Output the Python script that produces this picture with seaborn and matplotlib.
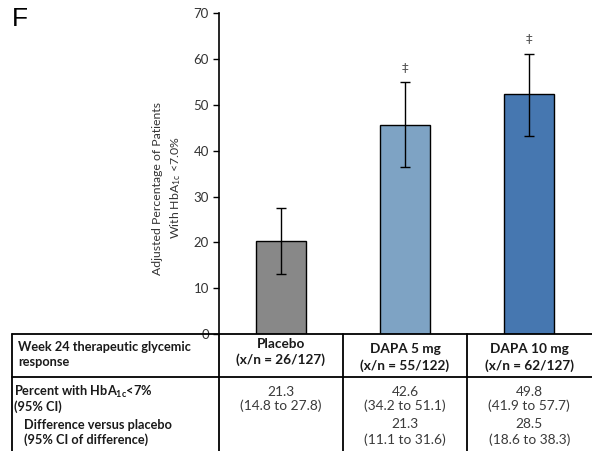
import matplotlib
matplotlib.use("Agg")
import matplotlib.pyplot as plt
import matplotlib.transforms as mtransforms
from matplotlib.lines import Line2D
import seaborn as sns
import pandas as pd

# Adjusted percentage of patients reaching HbA1c < 7.0% at week 24
groups = ["Placebo", "DAPA 5 mg", "DAPA 10 mg"]
adj_pct = [20.4, 45.5, 52.4]
ci_low = [13.1, 36.4, 43.3]
ci_high = [27.4, 55.0, 61.2]
significance = ["", "‡", "‡"]
bar_colors = ["#888888", "#7ea3c4", "#4677b0"]

# Summary table below the bars
header_label = ["Week 24 therapeutic glycemic", "response"]
col_headers = [["Placebo", "(x/n = 26/127)"],
               ["DAPA 5 mg", "(x/n = 55/122)"],
               ["DAPA 10 mg", "(x/n = 62/127)"]]
pct_values = ["21.3", "42.6", "49.8"]
pct_ci = ["(14.8 to 27.8)", "(34.2 to 51.1)", "(41.9 to 57.7)"]
diff_values = ["", "21.3", "28.5"]
diff_ci = ["", "(11.1 to 31.6)", "(18.6 to 38.3)"]
yticks = [0, 10, 20, 30, 40, 50, 60, 70]

W, H = 592, 451
sns.set_theme(style="white")
plt.rcParams["font.family"] = ["Lato", "DejaVu Sans"]
plt.rcParams["mathtext.fontset"] = "custom"
plt.rcParams["mathtext.rm"] = "Lato"
plt.rcParams["mathtext.it"] = "Lato:italic"
plt.rcParams["mathtext.bf"] = "Lato:bold"

fig = plt.figure(figsize=(W / 100, H / 100), dpi=100)
ax = fig.add_axes([218.5 / W, (H - 334) / H, 373 / W, 320.8 / H])

df = pd.DataFrame({"group": groups, "pct": adj_pct})
sns.barplot(data=df, x="group", y="pct", hue="group", palette=bar_colors,
            order=groups, hue_order=groups, legend=False, width=0.4,
            edgecolor="black", linewidth=1.0, saturation=1, ax=ax)

xs = list(range(len(groups)))
err_lo = [v - l for v, l in zip(adj_pct, ci_low)]
err_hi = [h - v for v, h in zip(adj_pct, ci_high)]
ax.errorbar(xs, adj_pct, yerr=[err_lo, err_hi], fmt="none", ecolor="black",
            elinewidth=1.0, capsize=3.8, capthick=1.0, zorder=5)
for x, h, s in zip(xs, ci_high, significance):
    if s:
        ax.text(x, h + 3.2, s, ha="center", va="center", fontsize=9.5,
                color="#555555", family=["DejaVu Sans"])

ax.set_xlim(-0.5, 2.5)
ax.set_ylim(0, 70)
ax.set_yticks(yticks)
ax.set_yticklabels([str(t) for t in yticks], fontsize=9.5, color="#333333")
ax.set_xticks([])
ax.set_xlabel("")
ax.set_ylabel("Adjusted Percentage of Patients\nWith HbA$_{\\mathrm{1c}}$ <7.0%",
              fontsize=8.8, color="#333333", linespacing=1.45)
ax.yaxis.set_label_coords(-0.095, 0.455)
ax.tick_params(axis="y", direction="out", length=4, width=1, color="black",
               left=True, pad=3)
for side in ["top", "right", "bottom"]:
    ax.spines[side].set_visible(False)
ax.spines["left"].set_color("black")
ax.spines["left"].set_linewidth(1.2)

fig.text(12 / W, 1 - 19 / H, "F", fontsize=19, family=["Liberation Sans"],
         ha="left", va="center", color="black")

# Table grid
def fy(px):
    return 1 - px / H

lw = 1.3
fig.add_artist(Line2D([12 / W, 1], [fy(334), fy(334)], color="black", lw=lw))
fig.add_artist(Line2D([12 / W, 1], [fy(376.7), fy(376.7)], color="black", lw=lw))
fig.add_artist(Line2D([12.3 / W, 12.3 / W], [fy(334), 0], color="black", lw=lw))
blend = mtransforms.blended_transform_factory(ax.transData, fig.transFigure)
for xd in [-0.5, 0.5, 1.5]:
    fig.add_artist(Line2D([xd, xd], [fy(334), 0], color="black", lw=lw,
                          transform=blend))

bold_kw = dict(fontsize=9.2, fontweight="bold", color="#1a1a1a")
head_kw = dict(fontsize=9.8, fontweight="bold", color="#1a1a1a")
val_kw = dict(fontsize=9.9, color="#3a3a3a", ha="center", va="baseline")

fig.text(18 / W, fy(346.7), header_label[0], ha="left", va="center", **bold_kw)
fig.text(18 / W, fy(361.7), header_label[1], ha="left", va="center", **bold_kw)

header_y = [(344, 360), (349, 365.7), (349, 365.7)]
for x, lines, (y1, y2) in zip(xs, col_headers, header_y):
    fig.text(x, fy(y1), lines[0], ha="center", va="center", transform=blend, **head_kw)
    fig.text(x, fy(y2), lines[1], ha="center", va="center", transform=blend, **head_kw)

fig.text(14 / W, fy(395.5), "Percent with HbA$_{\\mathbf{1c}}$<7%", ha="left",
         va="baseline", **bold_kw)
fig.text(14 / W, fy(410.5), "(95% CI)", ha="left", va="baseline", **bold_kw)
fig.text(24 / W, fy(429), "Difference versus placebo", ha="left", va="baseline", **bold_kw)
fig.text(24 / W, fy(444), "(95% CI of difference)", ha="left", va="baseline", **bold_kw)

for x, v, c, d, dc in zip(xs, pct_values, pct_ci, diff_values, diff_ci):
    fig.text(x, fy(395.5), v, transform=blend, **val_kw)
    fig.text(x, fy(410.5), c, transform=blend, **val_kw)
    if d:
        fig.text(x, fy(427.5), d, transform=blend, **val_kw)
        fig.text(x, fy(444), dc, transform=blend, **val_kw)

fig.savefig("out.png", dpi=100)
